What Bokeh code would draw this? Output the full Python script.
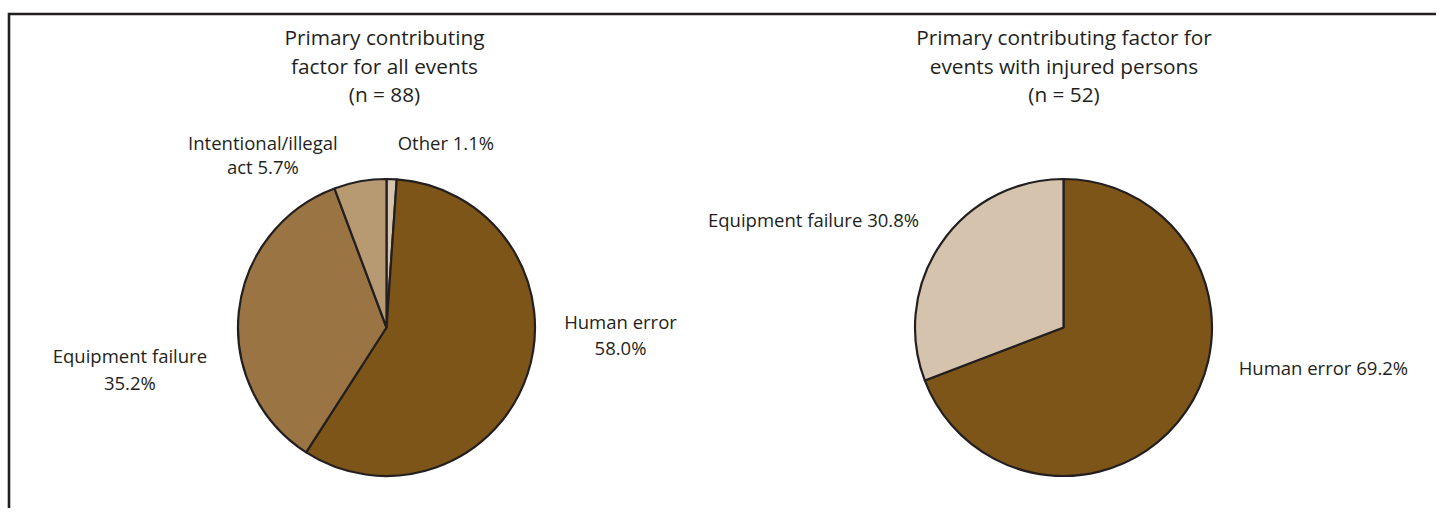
import math
from bokeh.plotting import figure
from bokeh.models import ColumnDataSource, Range1d
from bokeh.core.properties import value
from bokeh.embed import file_html
from bokeh.resources import INLINE

# ---------------- data ----------------
titles_left = ["Primary contributing", "factor for all events", "(n = 88)"]
titles_right = ["Primary contributing factor for", "events with injured persons", "(n = 52)"]

# clockwise from 12 o'clock
cats_left = ["Other", "Human error", "Equipment failure", "Intentional/illegal act"]
vals_left = [1.1, 58.0, 35.2, 5.7]
colors_left = ["#D7C4AE", "#7E5519", "#9A7443", "#B89A72"]

cats_right = ["Human error", "Equipment failure"]
vals_right = [69.2, 30.8]
colors_right = ["#7E5519", "#D6C3AE"]

# ---------------- layout ----------------
W, H = 1436, 508
INK = "#231F20"
FONT = "Open Sans"
TITLE_SIZE = "20.8px"
LABEL_SIZE = "18.5px"
R = 148.5


def sy(y):  # page y -> data y
    return H - y


def sx(x):  # page x -> data x
    return x


p = figure(width=W, height=H, output_backend="svg", toolbar_location=None,
           x_range=Range1d(0, W), y_range=Range1d(0, H),
           x_axis_type=None, y_axis_type=None, min_border=0,
           background_fill_color="white", border_fill_color="white")
p.min_border_left = p.min_border_right = p.min_border_top = p.min_border_bottom = 0
p.grid.visible = False
p.outline_line_color = None

# box frame (left and top sides, running off the page to right and bottom)
p.line(x=[sx(8.5), sx(8.5), sx(W + 10)], y=[sy(H + 10), sy(13.5), sy(13.5)],
       line_color=INK, line_width=2.6, line_join="miter")


def pie(cx, cy, vals, cats, colors):
    total = sum(vals)
    starts, ends = [], []
    acc = 0.0
    for v in vals:
        a0 = acc / total * 2 * math.pi
        acc += v
        a1 = acc / total * 2 * math.pi
        # clockwise from top -> anticlockwise angles
        starts.append(math.pi / 2 - a1)
        ends.append(math.pi / 2 - a0)
    src = ColumnDataSource(dict(x=[cx] * len(vals), y=[cy] * len(vals), start=starts, end=ends,
                                color=colors, cat=cats, val=vals))
    p.wedge(x="x", y="y", radius=R, start_angle="start", end_angle="end", source=src,
            fill_color="color", line_color=INK, line_width=2.2)


pie(sx(386), sy(327), vals_left, cats_left, colors_left)
pie(sx(1063), sy(327), vals_right, cats_right, colors_right)


def text_lines(lines, xs, ys, size, align="center"):
    p.text(x=[sx(v) for v in xs], y=[sy(v) for v in ys], text=lines,
           text_font=value(FONT), text_font_size=size, text_color=INK,
           text_align=align, text_baseline="middle")


# titles
text_lines(titles_left, [384] * 3, [36.7, 65, 93], TITLE_SIZE)
text_lines(titles_right, [1063.5] * 3, [36.7, 65, 93], TITLE_SIZE)


def pct(v):
    return f"{v:.1f}%"


L = dict(zip(cats_left, vals_left))
Rv = dict(zip(cats_right, vals_right))

# left pie labels
text_lines(["Intentional/illegal", "act " + pct(L["Intentional/illegal act"])],
           [262.4, 262.4], [141.7, 165.7], LABEL_SIZE)
text_lines(["Other " + pct(L["Other"])], [445.4], [141.7], LABEL_SIZE)
text_lines(["Human error", pct(L["Human error"])], [620, 620], [320.7, 346.7], LABEL_SIZE)
text_lines(["Equipment failure", pct(L["Equipment failure"])], [129.4, 129.4], [355, 381.7], LABEL_SIZE)

# right pie labels
text_lines(["Equipment failure " + pct(Rv["Equipment failure"])], [813], [219.3], LABEL_SIZE)
text_lines(["Human error " + pct(Rv["Human error"])], [1322.9], [366.7], LABEL_SIZE)

open("out.html", "w").write(file_html(p, INLINE))
